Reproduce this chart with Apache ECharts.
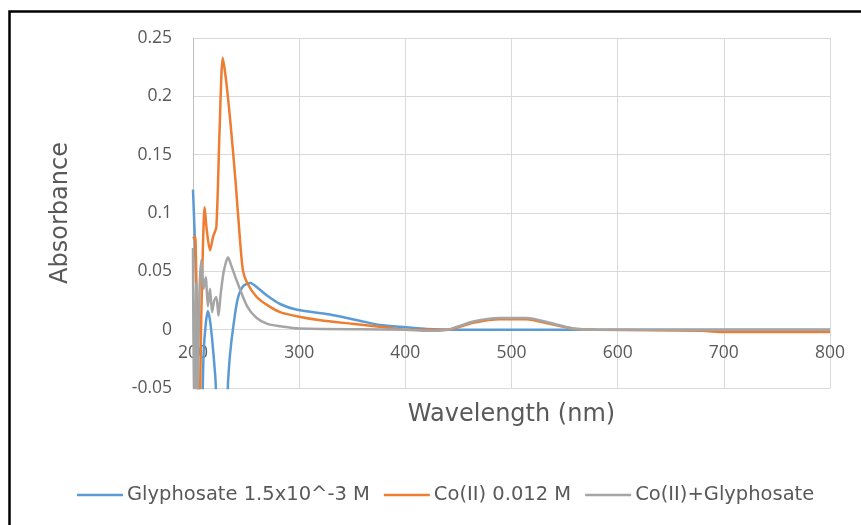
<!DOCTYPE html>
<html>
<head>
<meta charset="utf-8">
<script src="https://cdn.jsdelivr.net/npm/echarts@6/dist/echarts.min.js"></script>
<style>html,body{margin:0;padding:0;background:#fff;}#c{width:861px;height:525px;}</style>
</head>
<body>
<div id="c"></div>
<script>
const seriesNames = ['Glyphosate 1.5x10^-3 M', 'Co(II) 0.012 M', 'Co(II)+Glyphosate'];
const xTicks = [200, 300, 400, 500, 600, 700, 800];
const yTicks = [-0.05, 0, 0.05, 0.1, 0.15, 0.2, 0.25];

const glyWave = [200,202,204,206,208,210,212,214,216,218,221,224,231,233,235,238,242,247,254,262,270,282,298,329,345,360,376,401,420,450,500,600,700,800];
const glyAbs  = [0.12,0.07,0.0,-0.07,-0.08,-0.02,0.005,0.016,0.008,-0.008,-0.04,-0.08,-0.08,-0.045,-0.02,0.003,0.026,0.037,0.040,0.035,0.029,0.022,0.017,0.013,0.010,0.007,0.004,0.002,0.0005,0.0,0.0,0.0,0.0,0.0];

const coWave = [200,202,204,206,208,211,213,216,219,222,225,228,231,235,240,244,247,251,260,270,282,300,320,350,380,400,440,464,489,514,536,558,580,680,700,800];
const coAbs  = [0.078,0.08,-0.02,-0.08,0.02,0.105,0.085,0.068,0.08,0.088,0.17,0.233,0.215,0.18,0.128,0.08,0.051,0.04,0.028,0.021,0.015,0.011,0.008,0.005,0.002,0.0,0.0,0.006,0.009,0.009,0.005,0.001,0.0,-0.001,-0.002,-0.002];

const mixWave = [200,201,203,204,206,208,210,212,214,216,218,220,222,224,226,229,233,236,242,251,260,270,282,300,400,420,440,464,489,514,536,558,580,700,800];
const mixAbs  = [0.07,-0.08,0.04,-0.08,0.03,0.06,0.035,0.045,0.02,0.035,0.015,0.025,0.028,0.012,0.03,0.05,0.062,0.055,0.04,0.02,0.010,0.005,0.003,0.001,0.0,-0.001,0.0,0.007,0.010,0.010,0.006,0.001,0.0,0.0,0.0];

function pairs(xs, ys) { return xs.map((x, i) => [x, ys[i]]); }

const colors = ['#5B9BD5', '#ED7D31', '#A5A5A5'];
const textColor = '#595959';
const tickFont = '"Open Sans", sans-serif';
const titleFont = '"DejaVu Sans", sans-serif';

const chart = echarts.init(document.getElementById('c'), null, {renderer: 'canvas'});
chart.setOption({
  animation: false,
  backgroundColor: '#fff',
  color: colors,
  graphic: [{
    type: 'rect', left: 7, top: 9, silent: true,
    shape: {width: 870, height: 540},
    style: {fill: 'none', stroke: '#000', lineWidth: 2.5}
  }],
  grid: {left: 193, right: 31, top: 38, bottom: 137, containLabel: false},
  legend: {
    left: 72, top: 480,
    icon: 'rect',
    itemWidth: 46, itemHeight: 2.5, itemGap: 14,
    textStyle: {color: textColor, fontSize: 19.5, fontFamily: titleFont, padding: [0, 0, 0, -1]},
    data: seriesNames
  },
  xAxis: {
    type: 'value', min: xTicks[0], max: xTicks[xTicks.length - 1], interval: 100,
    offset: -58,
    name: 'Wavelength (nm)', nameLocation: 'middle', nameGap: 73,
    nameTextStyle: {color: textColor, fontSize: 24, fontFamily: titleFont},
    axisLine: {show: false, onZero: false},
    axisTick: {show: false},
    axisLabel: {color: textColor, fontSize: 17.5, fontFamily: tickFont, margin: 14},
    splitLine: {show: true, lineStyle: {color: '#D9D9D9', width: 1}}
  },
  yAxis: {
    type: 'value', min: yTicks[0], max: yTicks[yTicks.length - 1], interval: 0.05,
    name: 'Absorbance', nameLocation: 'middle', nameGap: 120, nameRotate: 90,
    nameTextStyle: {color: textColor, fontSize: 24, fontFamily: titleFont},
    axisLine: {show: true, lineStyle: {color: '#BFBFBF', width: 1}},
    axisTick: {show: false},
    axisLabel: {color: textColor, fontSize: 17.5, fontFamily: tickFont, margin: 21,
      formatter: v => String(parseFloat(v.toFixed(2)))},
    splitLine: {show: true, lineStyle: {color: '#D9D9D9', width: 1}}
  },
  series: [
    {name: seriesNames[0], type: 'line', data: pairs(glyWave, glyAbs), symbol: 'none', smooth: 0.25, lineStyle: {width: 2.5}, z: 3},
    {name: seriesNames[1], type: 'line', data: pairs(coWave, coAbs), symbol: 'none', smooth: 0.25, lineStyle: {width: 2.5}, z: 4},
    {name: seriesNames[2], type: 'line', data: pairs(mixWave, mixAbs), symbol: 'none', smooth: 0.25, lineStyle: {width: 2.5}, z: 5}
  ]
});
</script>
</body>
</html>
